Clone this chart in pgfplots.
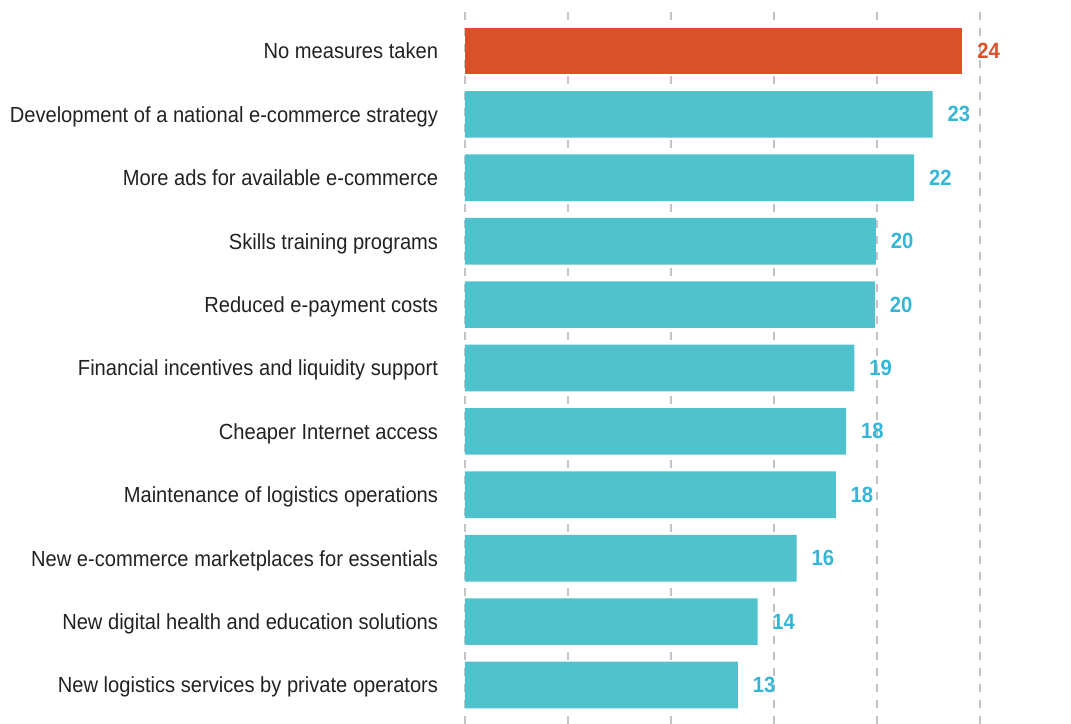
\documentclass[border=0pt]{standalone}
\usepackage{fontspec}
\setmainfont{Liberation Sans}[FakeStretch=0.92]
\usepackage{pgfplots}
\pgfplotsset{compat=1.18}
\usepackage{pgfplotstable}
\definecolor{barteal}{HTML}{50C2CD}
\definecolor{numteal}{HTML}{35B6D6}
\definecolor{barorange}{HTML}{DA5129}
\definecolor{labelgray}{HTML}{222222}
\definecolor{gridgray}{HTML}{C4C4C4}

\pgfplotstableread{
y val lab
9 22.7 23
8 21.8 22
7 19.95 20
6 19.9 20
5 18.9 19
4 18.5 18
3 18.0 18
2 16.1 16
1 14.2 14
0 13.25 13
}\tealdata
\pgfplotstableread{
y val lab
10 24.15 24
}\orangedata

\begin{document}
\begin{tikzpicture}
\begin{axis}[
  name=ax,
  scale only axis,
  width=386.25pt, height=535.5pt,
  xmin=0, xmax=25,
  ymin=-0.615, ymax=10.647,
  xbar, bar width=35pt, bar shift=0pt,
  xtick={0,5,...,25}, xticklabels={},
  xmajorgrids,
  grid style={gridgray, line width=1.1pt, dash pattern=on 6pt off 6pt},
  ytick={0,...,10},
  yticklabels={New logistics services by private operators,
    New digital health and education solutions,
    New e-commerce marketplaces for essentials,
    Maintenance of logistics operations,
    Cheaper Internet access,
    Financial incentives and liquidity support,
    Reduced e-payment costs,
    Skills training programs,
    More ads for available e-commerce,
    Development of a national e-commerce strategy,
    No measures taken},
  yticklabel style={font=\fontsize{16.4}{19}\selectfont, text=labelgray,
    inner sep=0pt, text height=11.7pt, text depth=0pt, xshift=-20pt},
  major tick length=0pt,
  axis line style={draw=none},
  nodes near coords,
  point meta=explicit symbolic,
  nodes near coords style={font=\bfseries\fontsize{16.5}{19}\selectfont,
    anchor=west, inner sep=0pt, xshift=11pt},
  clip=false,
]
\addplot[fill=barteal, draw=none,
  every node near coord/.append style={text=numteal}]
  table[x=val, y=y, meta=lab]{\tealdata};
\addplot[fill=barorange, draw=none,
  every node near coord/.append style={text=barorange}]
  table[x=val, y=y, meta=lab]{\orangedata};
\end{axis}
\pgfresetboundingbox
\path[use as bounding box] ([xshift=-348.75pt]ax.south west)
  rectangle ([xshift=68.25pt, yshift=7.5pt]ax.north east);
\end{tikzpicture}
\end{document}
